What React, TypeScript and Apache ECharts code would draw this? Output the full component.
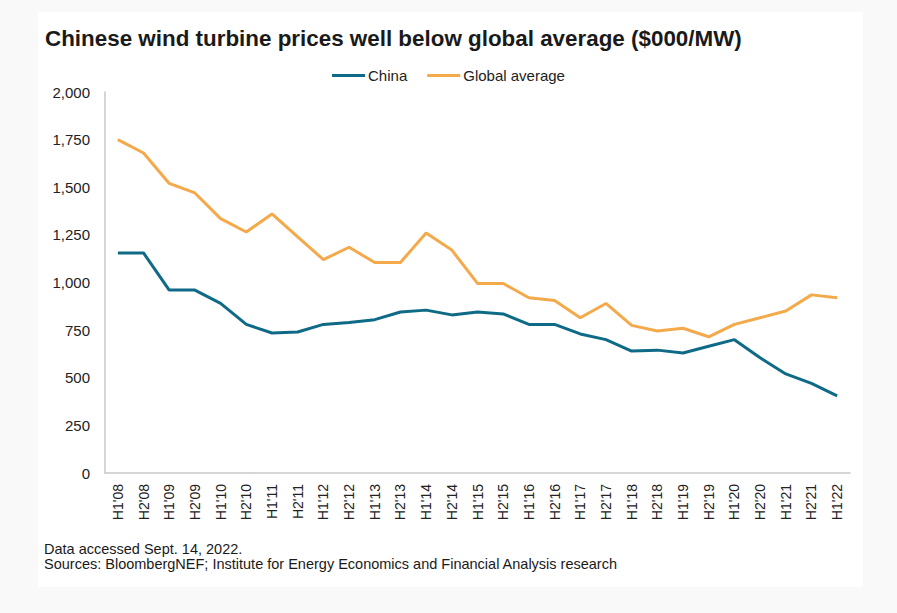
import React, { useEffect, useRef } from "react";
import * as echarts from "echarts";

const categories = [
  "H1'08", "H2'08", "H1'09", "H2'09", "H1'10", "H2'10", "H1'11", "H2'11",
  "H1'12", "H2'12", "H1'13", "H2'13", "H1'14", "H2'14", "H1'15", "H2'15",
  "H1'16", "H2'16", "H1'17", "H2'17", "H1'18", "H2'18", "H1'19", "H2'19",
  "H1'20", "H2'20", "H1'21", "H2'21", "H1'22",
];

const china = [
  1155, 1155, 960, 960, 890, 780, 735, 740, 780, 790, 805, 845, 855, 830, 845,
  835, 780, 780, 730, 700, 640, 645, 630, 665, 700, 605, 520, 470, 405,
];

const globalAverage = [
  1750, 1680, 1520, 1470, 1335, 1265, 1360, 1240, 1120, 1185, 1105, 1105, 1260,
  1170, 995, 995, 920, 905, 815, 890, 775, 745, 760, 715, 780, 815, 850, 935, 920,
];

const yTicks = { min: 0, max: 2000, interval: 250 };

const title = "Chinese wind turbine prices well below global average ($000/MW)";
const footnotes = [
  "Data accessed Sept. 14, 2022.",
  "Sources: BloombergNEF; Institute for Energy Economics and Financial Analysis research",
];

const FONT = "'Liberation Sans', Arial, sans-serif";

export default function App() {
  const ref = useRef<HTMLDivElement>(null);

  useEffect(() => {
    if (!ref.current) return;
    const chart = echarts.init(ref.current, null, { renderer: "svg" });
    chart.setOption({
      animation: false,
      backgroundColor: "transparent",
      textStyle: { fontFamily: FONT },
      title: {
        text: title,
        left: 40,
        top: 22,
        textStyle: { fontFamily: FONT, fontSize: 22.4, fontWeight: "bold", color: "#1a1a1a" },
      },
      legend: {
        top: 63,
        left: "center",
        itemWidth: 33,
        itemHeight: 3,
        itemGap: 20,
        icon: "rect",
        textStyle: { fontFamily: FONT, fontSize: 15, color: "#222", padding: [0, 0, 0, -2] },
        data: ["China", "Global average"],
      },
      grid: { left: 105, right: 47, top: 92, bottom: 140, containLabel: false },
      xAxis: {
        type: "category",
        data: categories,
        boundaryGap: true,
        axisLine: { show: true, lineStyle: { color: "#c8c8c8", width: 1.5 } },
        axisTick: { show: false },
        axisLabel: {
          rotate: 90,
          interval: 0,
          margin: 11,
          fontSize: 14,
          color: "#222",
          fontFamily: FONT,
        },
      },
      yAxis: {
        type: "value",
        min: yTicks.min,
        max: yTicks.max,
        interval: yTicks.interval,
        axisLine: { show: true, lineStyle: { color: "#c8c8c8", width: 1.5 } },
        axisTick: { show: false },
        splitLine: { show: false },
        axisLabel: {
          margin: 15,
          fontSize: 15,
          color: "#222",
          fontFamily: FONT,
          formatter: (v: number) => v.toLocaleString("en-US"),
        },
      },
      series: [
        {
          name: "China",
          type: "line",
          data: china,
          symbol: "none",
          lineStyle: { color: "#0e6a86", width: 3 },
          itemStyle: { color: "#0e6a86" },
        },
        {
          name: "Global average",
          type: "line",
          data: globalAverage,
          symbol: "none",
          lineStyle: { color: "#f4a94a", width: 3 },
          itemStyle: { color: "#f4a94a" },
        },
      ],
      graphic: [
        {
          type: "text",
          left: 44,
          top: 541,
          style: { text: footnotes[0], fontSize: 14.5, fill: "#1a1a1a", fontFamily: FONT },
        },
        {
          type: "text",
          left: 44,
          top: 556,
          style: { text: footnotes[1], fontSize: 14.5, fill: "#1a1a1a", fontFamily: FONT },
        },
      ],
    });
    return () => chart.dispose();
  }, []);

  return (
    <div
      style={{
        position: "fixed",
        left: 0,
        top: 0,
        width: 897,
        height: 613,
        background: "#f9f9f9",
      }}
    >
      <div
        style={{
          position: "absolute",
          left: 38,
          top: 12,
          width: 825,
          height: 575,
          background: "#ffffff",
        }}
      />
      <div
        ref={ref}
        style={{ position: "absolute", left: 0, top: 0, width: 897, height: 613 }}
      />
    </div>
  );
}
